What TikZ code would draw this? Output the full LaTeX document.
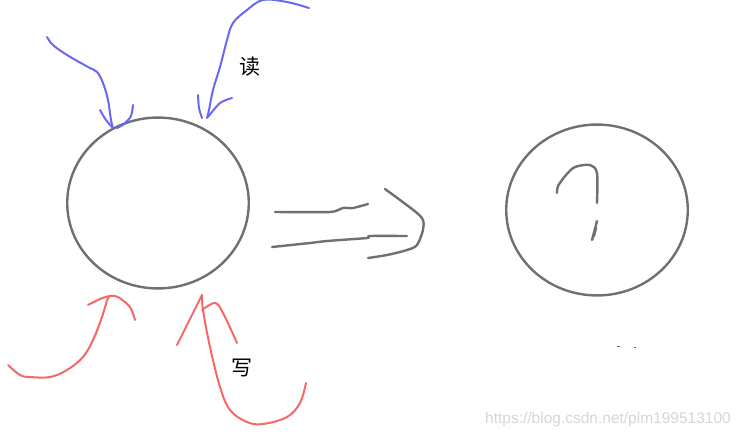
\documentclass[tikz,border=0pt]{standalone}
\usepackage{fontspec}
\setmainfont{Liberation Sans}
\newfontfamily\cjk{Noto Sans CJK SC}
\usepackage{xcolor}
\definecolor{pencilgray}{RGB}{112,112,112}
\definecolor{readblue}{RGB}{104,104,242}
\definecolor{writered}{RGB}{246,104,104}
\definecolor{markgray}{RGB}{214,214,214}
\usetikzlibrary{positioning}

\begin{document}
\begin{tikzpicture}[
    x=1pt, y=-1pt,
    pencil/.style={draw=pencilgray, line width=2.4pt, line cap=round, line join=round},
    readstroke/.style={draw=readblue, line width=2pt, line cap=round, line join=round},
    writestroke/.style={draw=writered, line width=2pt, line cap=round, line join=round},
    hanzi/.style={font=\cjk\fontsize{21}{21}\selectfont, inner sep=0pt}
]
\useasboundingbox (0,0) rectangle (741,436);

% the two circles
\node[circle, pencil, minimum size=178pt, inner sep=0pt, xscale=1.02, yscale=0.96] (before) at (158,203) {};
\node[circle, pencil, minimum size=178pt, inner sep=0pt, xscale=1.02, yscale=0.96] (after) at (597,210) {};

% labels
\node[hanzi] (readlbl) at (250,67) {读};
\node[hanzi] (writelbl) at (242,368) {写};

% read arrows (blue)
\draw[readstroke] plot[smooth, tension=0.6] coordinates {(47,37) (53,45) (67,55) (88,67) (97,72) (103,83) (108,100) (111,120) (113,128)};
\draw[readstroke] plot[smooth] coordinates {(100,110) (106,120) (113,128)};
\draw[readstroke] plot[smooth] coordinates {(133,105) (131,116) (124,124) (117,128)};
\draw[readstroke] plot[smooth, tension=0.6] coordinates {(309,8) (287,2) (263,0) (247,10) (233,23) (227,40) (220,67) (213,90) (209,110) (207,118)};
\draw[readstroke] plot[smooth] coordinates {(198,95) (199,108) (202,118)};
\draw[readstroke] plot[smooth] coordinates {(232,98) (220,103) (208,117)};

% write arrows (red)
\draw[writestroke] plot[smooth, tension=0.6] coordinates {(8,365) (20,375) (30,377) (50,377) (67,370) (83,357) (93,340) (102,317) (108,298) (112,296)};
\draw[writestroke] plot[smooth] coordinates {(88,305) (100,299) (110,296) (118,297) (130,307) (135,320)};
\draw[writestroke] (177,345) -- (202,295);
\draw[writestroke] plot[smooth, tension=0.6] coordinates {(202,295) (203,310) (210,347) (220,387) (230,410) (247,422) (263,424) (287,417) (300,403) (306,383)};
\draw[writestroke] plot[smooth, tension=0.6] coordinates {(202,310) (215,303) (223,313) (237,343)};

% the big arrow in the middle
\draw[pencil] plot[smooth, tension=0.4] coordinates {(275,212) (330,212) (343,208) (353,208) (368,204)};
\draw[pencil] plot[smooth, tension=0.4] coordinates {(272,247) (310,243) (327,241) (367,238) (370,236) (407,236)};
\draw[pencil] plot[smooth, tension=0.5] coordinates {(385,189) (400,200) (417,213) (423,220) (423,230) (417,245) (407,250) (387,255) (368,258)};

% question mark
\draw[pencil] plot[smooth, tension=0.5] coordinates {(557,193) (558,186) (566,175) (575,167) (590,165) (597,173) (597,203)};
\draw[pencil, line width=2.4pt] (597,221) -- (592,240) -- (596,228) -- (594,236);

% stray specks
\draw[draw=black!60, line width=0.8pt] (617,346) -- (620,346) (634,347) -- (636,347);

% watermark
\node[anchor=south east, text=markgray, font=\fontsize{15.5}{15.5}\selectfont, inner sep=0pt] (mark) at (731,427) {https://blog.csdn.net/plm199513100};
\end{tikzpicture}
\end{document}
